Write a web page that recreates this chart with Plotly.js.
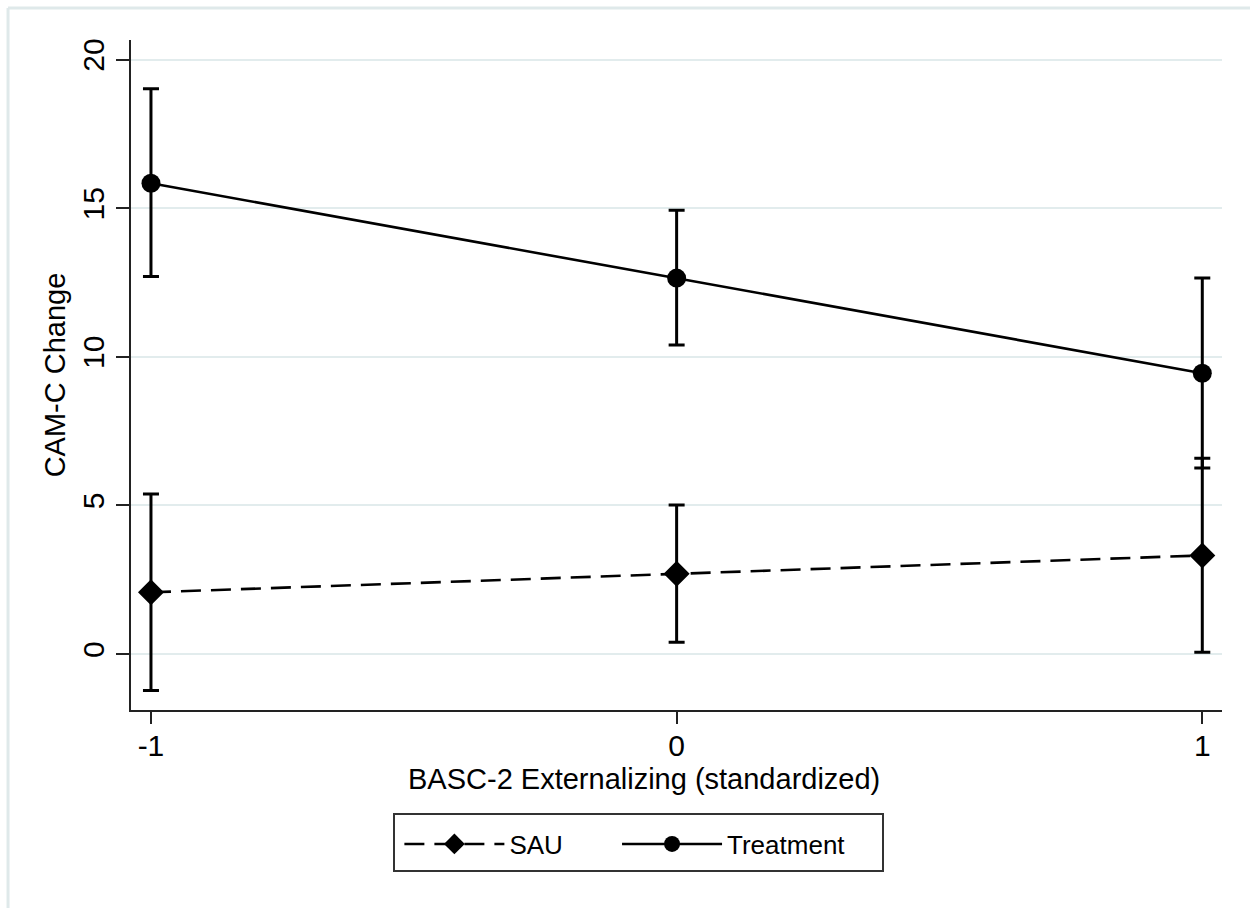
<!DOCTYPE html>
<html>
<head>
<meta charset="utf-8">
<script src="https://cdn.plot.ly/plotly-3.0.1.min.js"></script>
<style>html,body{margin:0;padding:0;background:#fff;}#chart{width:1250px;height:908px;}</style>
</head>
<body>
<div id="chart"></div>
<script>
// Data
const xVals = [-1, 0, 1];
const sauMean = [2.08, 2.70, 3.32];
const sauLow = [-1.22, 0.40, 0.06];
const sauHigh = [5.39, 5.02, 6.59];
const treatMean = [15.84, 12.65, 9.45];
const treatLow = [12.70, 10.40, 6.26];
const treatHigh = [19.02, 14.93, 12.65];
const seriesNames = ['SAU', 'Treatment'];
const xTicks = [-1, 0, 1];
const yTicks = [0, 5, 10, 15, 20];
const xTitle = 'BASC-2 Externalizing (standardized)';
const yTitle = 'CAM-C Change';

const plus = (hi, m) => hi.map((v, i) => v - m[i]);
const minus = (lo, m) => lo.map((v, i) => m[i] - v);

const font = 'Liberation Sans, Arial, Helvetica, sans-serif';

const traces = [
  {
    x: xVals, y: sauMean, name: seriesNames[0], type: 'scatter', mode: 'lines+markers', legend: 'legend',
    line: {color: '#000', width: 2.6, dash: '20px,10px'},
    marker: {symbol: 'diamond', size: 20, color: '#000'},
    error_y: {type: 'data', symmetric: false, array: plus(sauHigh, sauMean), arrayminus: minus(sauLow, sauMean),
      color: '#000', thickness: 3, width: 8}
  },
  {
    x: xVals, y: treatMean, name: seriesNames[1], type: 'scatter', mode: 'lines+markers', legend: 'legend2',
    line: {color: '#000', width: 2.6},
    marker: {symbol: 'circle', size: 19, color: '#000'},
    error_y: {type: 'data', symmetric: false, array: plus(treatHigh, treatMean), arrayminus: minus(treatLow, treatMean),
      color: '#000', thickness: 3, width: 8}
  }
];

const legendBase = {
  orientation: 'h', xanchor: 'left', y: -0.165, yanchor: 'top',
  borderwidth: 0, bgcolor: 'rgba(0,0,0,0)',
  font: {size: 26, family: font}, itemwidth: 100
};

const layout = {
  width: 1250, height: 908,
  margin: {l: 131, r: 28, t: 40, b: 198},
  paper_bgcolor: '#fff', plot_bgcolor: '#fff',
  font: {family: font, color: '#000', size: 29},
  showlegend: true,
  xaxis: {
    range: [-1.038, 1.0375], tickvals: xTicks, ticktext: xTicks.map(String),
    showgrid: false, zeroline: false, showline: true, linecolor: '#222', linewidth: 2,
    ticks: 'outside', ticklen: 12, tickwidth: 2, tickcolor: '#222', ticklabelstandoff: -4,
    tickfont: {size: 30, family: font}
  },
  yaxis: {
    range: [-1.88, 20.66], tickvals: yTicks, ticktext: yTicks.map(String), tickangle: -90,
    showgrid: true, gridcolor: '#e2eced', gridwidth: 2, zeroline: false,
    showline: true, linecolor: '#222', linewidth: 2,
    ticks: 'outside', ticklen: 13, tickwidth: 2, tickcolor: '#222',
    tickfont: {size: 30, family: font},
    title: {text: yTitle, font: {size: 29, family: font}, standoff: 3}
  },
  legend: Object.assign({}, legendBase, {x: 0.246}),
  legend2: Object.assign({}, legendBase, {x: 0.4455}),
  annotations: [
    {text: xTitle, xref: 'paper', yref: 'paper', x: 0.4702, y: -0.103, xanchor: 'center', yanchor: 'middle',
      showarrow: false, font: {size: 29, family: font, color: '#000'}}
  ],
  shapes: [
    {type: 'line', xref: 'paper', yref: 'paper', x0: -0.1127, x1: -0.1127, y0: 1.0478, y1: -0.3, line: {color: '#dfe9ea', width: 3}},
    {type: 'line', xref: 'paper', yref: 'paper', x0: -0.1127, x1: 1.03, y0: 1.0478, y1: 1.0478, line: {color: '#dfe9ea', width: 3}},
    {type: 'rect', xref: 'paper', yref: 'paper', x0: (394 - 131) / 1091, x1: (883 - 131) / 1091,
      y0: (710 - 814) / 670, y1: (710 - 871) / 670, line: {color: '#333', width: 2}, fillcolor: 'rgba(0,0,0,0)', layer: 'above'}
  ]
};

Plotly.newPlot('chart', traces, layout, {displayModeBar: false, staticPlot: true});
</script>
</body>
</html>
